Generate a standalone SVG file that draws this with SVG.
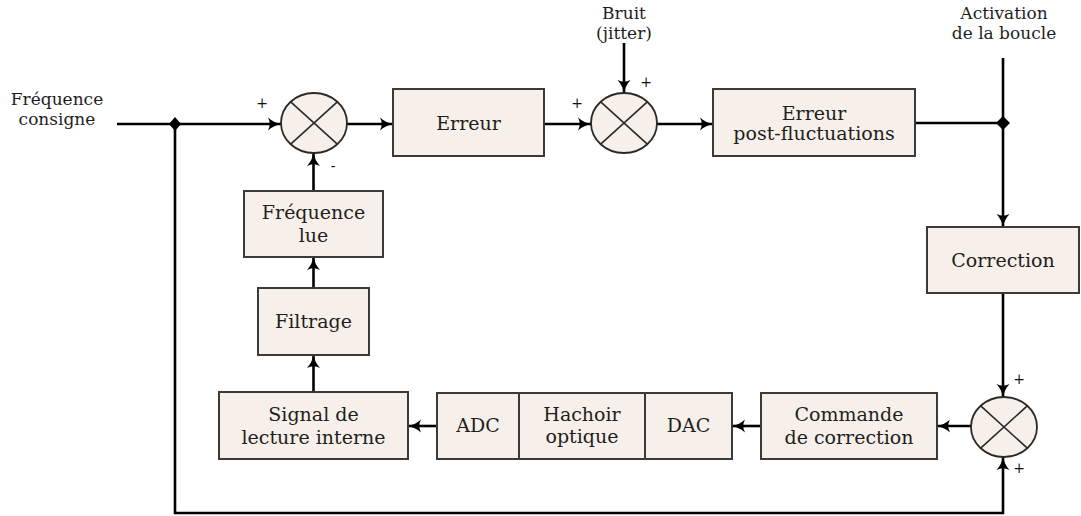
<svg xmlns="http://www.w3.org/2000/svg" width="1081" height="516" viewBox="0 0 1081 516">
<style>
.box{fill:#f7efe9;stroke:#3a3a3a;stroke-width:2}
.sum{fill:#f7efe9;stroke:#2a2a2a;stroke-width:1.8}
.x{stroke:#2a2a2a;stroke-width:1.6;fill:none}
.t{font-family:"DejaVu Serif","Liberation Serif",serif;font-size:19px;fill:#1e1e1e;text-anchor:middle}
.lbl{font-family:"DejaVu Serif","Liberation Serif",serif;font-size:17px;fill:#1e1e1e;text-anchor:middle}
.sg{font-family:"DejaVu Serif","Liberation Serif",serif;font-size:14px;fill:#111;text-anchor:middle}
.ln{stroke:#000;stroke-width:2.6;fill:none}
.arr{stroke:#000;stroke-width:2.6;fill:none;marker-end:url(#ah)}
</style>
<defs>
<marker id="ah" viewBox="0 0 14 14" refX="13" refY="7" markerWidth="14" markerHeight="14" markerUnits="userSpaceOnUse" orient="auto">
<path d="M0,0.5 Q6,6 14,7 Q6,8 0,13.5 Q3.5,7 0,0.5 z" fill="#000"/>
</marker>
</defs>

<g id="connectors">
<line class="arr" x1="117" y1="124" x2="281" y2="124"/>
<line class="arr" x1="347" y1="124" x2="393" y2="124"/>
<line class="arr" x1="544" y1="124" x2="591" y2="124"/>
<line class="arr" x1="624" y1="43" x2="624" y2="93"/>
<line class="arr" x1="657" y1="124" x2="713" y2="124"/>
<line class="ln" x1="915" y1="123" x2="1003" y2="123"/>
<line class="arr" x1="1003" y1="58" x2="1003" y2="227"/>
<line class="arr" x1="1003" y1="293" x2="1003" y2="397"/>
<line class="arr" x1="971" y1="426" x2="937" y2="426"/>
<line class="arr" x1="761" y1="426" x2="732" y2="426"/>
<line class="arr" x1="437" y1="426" x2="408" y2="426"/>
<line class="arr" x1="313.5" y1="392" x2="313.5" y2="355"/>
<line class="arr" x1="313.5" y1="288" x2="313.5" y2="257"/>
<line class="arr" x1="313.5" y1="191" x2="313.5" y2="153"/>
<path class="arr" d="M175,124 L175,513 L1003,513 L1003,457"/>
<path d="M175,117 L181,124 L175,131 L169,124 z" fill="#000"/>
<path d="M1003,116 L1010,123 L1003,130 L996,123 z" fill="#000"/>
</g>

<g id="label-frequence-consigne">
<text class="lbl" x="57" y="105">Fréquence</text>
<text class="lbl" x="57" y="125">consigne</text>
</g>
<g id="label-bruit">
<text class="lbl" x="624" y="19">Bruit</text>
<text class="lbl" x="624" y="39">(jitter)</text>
</g>
<g id="label-activation">
<text class="lbl" x="1004" y="19">Activation</text>
<text class="lbl" x="1004" y="39">de la boucle</text>
</g>

<g id="sum1">
<ellipse class="sum" cx="314" cy="123" rx="33" ry="30"/>
<path class="x" d="M290.7,101.8 L337.3,144.2 M337.3,101.8 L290.7,144.2"/>
<text class="sg" x="262" y="108">+</text>
<text class="sg" x="333" y="171">-</text>
</g>

<g id="erreur">
<rect class="box" x="393" y="89" width="151" height="67"/>
<text class="t" x="468.5" y="129.5">Erreur</text>
</g>

<g id="sum2">
<ellipse class="sum" cx="624" cy="123" rx="33" ry="30"/>
<path class="x" d="M600.7,101.8 L647.3,144.2 M647.3,101.8 L600.7,144.2"/>
<text class="sg" x="577" y="108">+</text>
<text class="sg" x="646" y="87">+</text>
</g>

<g id="erreur-post">
<rect class="box" x="713" y="89" width="202" height="67"/>
<text class="t" x="814" y="120">Erreur</text>
<text class="t" x="814" y="140">post-fluctuations</text>
</g>

<g id="correction">
<rect class="box" x="927" y="227" width="152" height="66"/>
<text class="t" x="1003" y="267">Correction</text>
</g>

<g id="sum3">
<ellipse class="sum" cx="1004" cy="427" rx="33" ry="30"/>
<path class="x" d="M980.7,405.8 L1027.3,448.2 M1027.3,405.8 L980.7,448.2"/>
<text class="sg" x="1019" y="384">+</text>
<text class="sg" x="1019" y="473">+</text>
</g>

<g id="commande">
<rect class="box" x="761" y="393" width="176" height="66"/>
<text class="t" x="849" y="421">Commande</text>
<text class="t" x="849" y="444">de correction</text>
</g>

<g id="dac">
<rect class="box" x="645" y="393" width="87" height="66"/>
<text class="t" x="688.5" y="432">DAC</text>
</g>
<g id="hachoir">
<rect class="box" x="519" y="393" width="126" height="66"/>
<text class="t" x="582" y="421">Hachoir</text>
<text class="t" x="582" y="443">optique</text>
</g>
<g id="adc">
<rect class="box" x="437" y="393" width="82" height="66"/>
<text class="t" x="478" y="432">ADC</text>
</g>

<g id="signal">
<rect class="box" x="219" y="392" width="189" height="67"/>
<text class="t" x="313.5" y="421">Signal de</text>
<text class="t" x="313.5" y="444">lecture interne</text>
</g>

<g id="filtrage">
<rect class="box" x="258" y="288" width="111" height="67"/>
<text class="t" x="313.5" y="328">Filtrage</text>
</g>

<g id="frequence-lue">
<rect class="box" x="244" y="191" width="139" height="66"/>
<text class="t" x="313.5" y="219">Fréquence</text>
<text class="t" x="313.5" y="242">lue</text>
</g>
</svg>
